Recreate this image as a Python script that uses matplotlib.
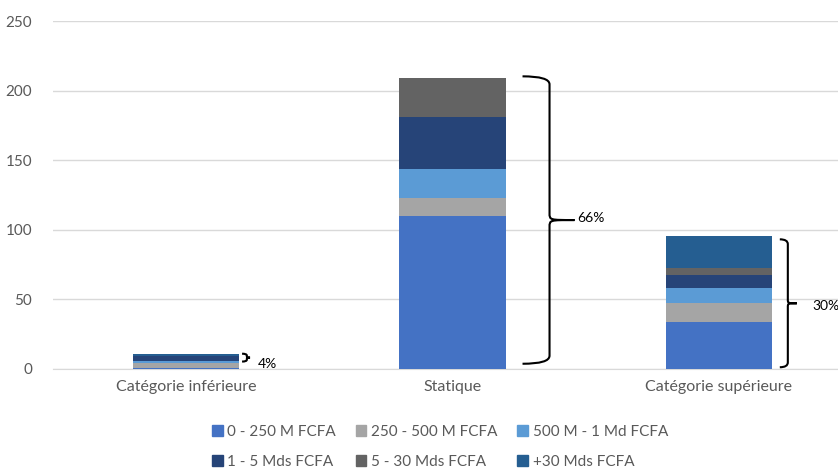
import matplotlib.pyplot as plt
from matplotlib.path import Path
from matplotlib.patches import PathPatch, Patch
import numpy as np

plt.rcParams['font.family'] = ['Lato', 'DejaVu Sans']

categories = ["Catégorie inférieure", "Statique", "Catégorie supérieure"]
series_names = ["0 - 250 M FCFA", "250 - 500 M FCFA", "500 M - 1 Md FCFA",
                "1 - 5 Mds FCFA", "5 - 30 Mds FCFA", "+30 Mds FCFA"]
colors = ["#4472C4", "#A5A5A5", "#5B9BD5", "#264478", "#636363", "#255E91"]

s_0_250 = [0.5, 110, 34]
s_250_500 = [3.5, 13, 13.6]
s_500_1 = [2, 21, 10.8]
s_1_5 = [3, 37, 9.1]
s_5_30 = [0.3, 28, 5.3]
s_30_plus = [1.5, 0, 23]
series = [s_0_250, s_250_500, s_500_1, s_1_5, s_5_30, s_30_plus]

share_labels = ["4%", "66%", "30%"]

fig = plt.figure(figsize=(8.38, 4.71), dpi=100)
ax = fig.add_axes([0.0632, 0.2166, 0.9535, 0.7388])

x = np.arange(len(categories))
bottom = np.zeros(len(categories))
for name, vals, c in zip(series_names, series, colors):
    ax.bar(x, vals, 0.4, bottom=bottom, color=c, label=name, zorder=3)
    bottom += np.array(vals)


def brace(ax, x0, w, y0, y1, r, frac):
    # curly brace opening to the left, tip at x0 + w
    xm = x0 + w * frac
    ym = (y0 + y1) / 2
    verts = [(x0, y1 + r * 0.15), (xm, y1 + r * 0.15), (xm, y1 - r),
             (xm, ym + r),
             (xm, ym), (xm, ym), (x0 + w, ym),
             (xm, ym), (xm, ym), (xm, ym - r),
             (xm, y0 + r),
             (xm, y0 - r * 0.15), (x0, y0 - r * 0.15)]
    codes = [Path.MOVETO, Path.CURVE3, Path.CURVE3,
             Path.LINETO,
             Path.CURVE4, Path.CURVE4, Path.CURVE4,
             Path.CURVE4, Path.CURVE4, Path.CURVE4,
             Path.LINETO,
             Path.CURVE3, Path.CURVE3]
    ax.add_patch(PathPatch(Path(verts, codes), fc="none", ec="black", lw=1.5,
                           clip_on=False, zorder=4))


# brace placement relative to each category centre
brace_x = [0.21, 0.263, 0.229]
brace_w = [0.03, 0.195, 0.064]
brace_frac = [0.6, 0.52, 0.47]
brace_r = [1.2, 5, 3]
brace_lo = [5.5, 4.5, 1.7]
brace_hi = [10.8, 209.5, 92.7]
label_x = [0.27, 0.469, 0.35]
label_y = [3.6, 108.5, 45]
for i in range(len(categories)):
    brace(ax, x[i] + brace_x[i], brace_w[i], brace_lo[i], brace_hi[i],
          brace_r[i], brace_frac[i])
    ax.text(x[i] + label_x[i], label_y[i], share_labels[i], fontsize=10,
            va="center", ha="left", color="black", clip_on=False)

ax.set_xlim(-0.5, 2.5)
ax.set_ylim(0, 250)
ax.set_yticks(range(0, 251, 50))
ax.set_xticks(x)
ax.set_xticklabels(categories, fontsize=11.5)
ax.grid(axis="y", color="#D9D9D9", lw=1, zorder=0)
for s in ["top", "right", "left"]:
    ax.spines[s].set_visible(False)
ax.spines["bottom"].set_color("#D9D9D9")
ax.tick_params(length=0, colors="#595959")
ax.tick_params(axis="y", pad=15, labelsize=11)
ax.tick_params(axis="x", pad=8)

# legend filled row by row like the original
order = [0, 3, 1, 4, 2, 5]
handles = [Patch(color=colors[k]) for k in order]
names = [series_names[k] for k in order]
fig.legend(handles, names, loc="center", bbox_to_anchor=(0.525, 0.051),
           ncol=3, frameon=False, fontsize=11, handlelength=0.7,
           handleheight=0.7, handletextpad=0.3, columnspacing=1.3,
           labelspacing=1.05, labelcolor="#595959")

fig.savefig("out.png", dpi=100)
